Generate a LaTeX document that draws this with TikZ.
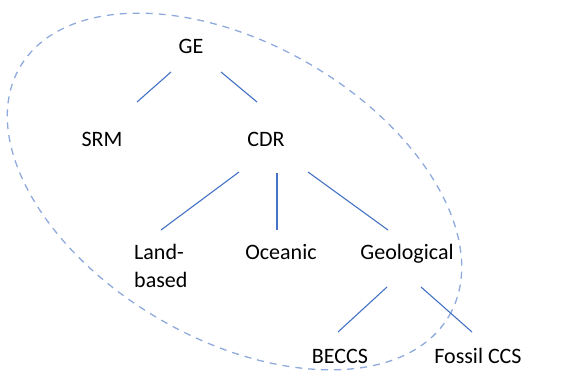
\documentclass[tikz,border=0pt]{standalone}
\usepackage{fontspec}
\setmainfont{Carlito}
\usepackage{tikz}
\usetikzlibrary{calc}
\definecolor{LineBlue}{HTML}{4472C4}
\definecolor{RingBlue}{HTML}{8FAADC}

\begin{document}
\begin{tikzpicture}[x=1pt,y=1pt,
    lbl/.style={font=\fontsize{22}{28}\selectfont,inner sep=0pt,anchor=base},
    branch/.style={LineBlue,line width=1.1pt},
    ring/.style={RingBlue,line width=1.3pt,dash pattern=on 7pt off 6pt}]
  \useasboundingbox (0,0) rectangle (585,370);
  % dashed loop round the tree
  \draw[ring,rotate around={-30:(234.5,178.5)}] (234.5,178.5) ellipse (248 and 148);
  % labels
  \node[lbl] (ge) at (191,316) {GE};
  \node[lbl] (srm) at (102,224) {SRM};
  \node[lbl] (cdr) at (266,224) {CDR};
  \node[lbl,anchor=base west,align=left] (land) at (134,83) {Land-\\based};
  \node[lbl] (ocean) at (281,111) {Oceanic};
  \node[lbl] (geo) at (407,111) {Geological};
  \node[lbl] (beccs) at (340,7) {BECCS};
  \node[lbl] (fossil) at (478,7) {Fossil CCS};
  % branches
  \draw[branch] ([shift={(-20,-18)}]ge.base) -- ([shift={(35,44)}]srm.base);
  \draw[branch] ([shift={(30,-18)}]ge.base) -- ([shift={(-9,44)}]cdr.base);
  \draw[branch] ([shift={(-27,-26)}]cdr.base) -- ([shift={(27,57)}]land.base west);
  \draw[branch] ([shift={(11,-27)}]cdr.base) -- ([shift={(-4,29)}]ocean.base);
  \draw[branch] ([shift={(42,-26)}]cdr.base) -- ([shift={(-19,29)}]geo.base);
  \draw[branch] ([shift={(-20,-28)}]geo.base) -- ([shift={(-2,31)}]beccs.base);
  \draw[branch] ([shift={(14,-28)}]geo.base) -- ([shift={(-6,31)}]fossil.base);
\end{tikzpicture}
\end{document}
